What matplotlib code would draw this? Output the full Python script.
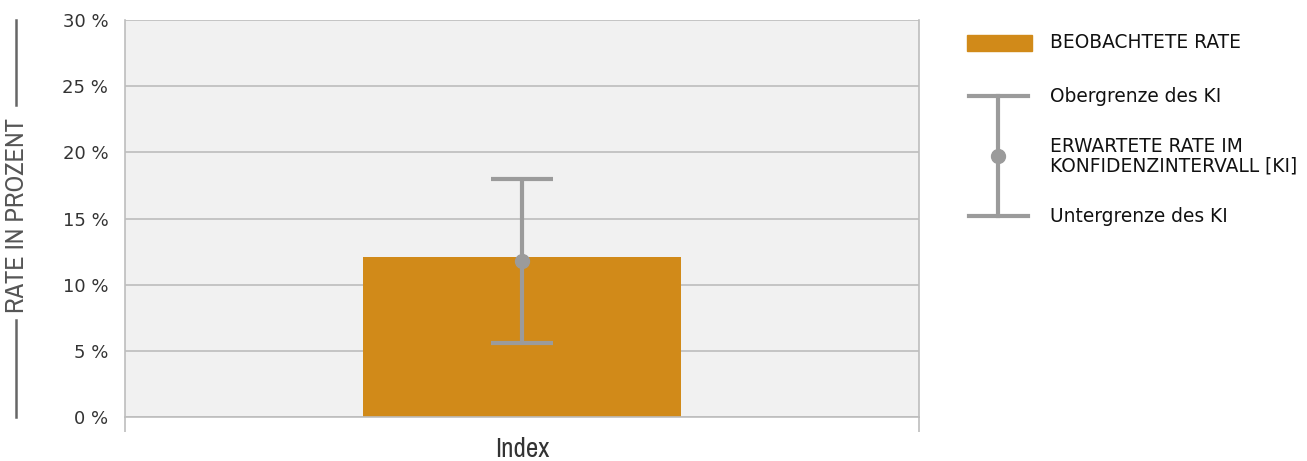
import matplotlib
matplotlib.use("Agg")
import matplotlib.pyplot as plt
from matplotlib import font_manager
from matplotlib.lines import Line2D
from matplotlib.patches import Rectangle

# Data
categories = ["Index"]
observed_rate = [12.1]
expected_rate = [11.8]
ci_upper = [18.0]
ci_lower = [5.6]
y_ticks = [0, 5, 10, 15, 20, 25, 30]
y_tick_labels = ["0 %", "5 %", "10 %", "15 %", "20 %", "25 %", "30 %"]
y_label = "RATE IN PROZENT"
legend_labels = ["BEOBACHTETE RATE", "Obergrenze des KI",
                 "ERWARTETE RATE IM\nKONFIDENZINTERVALL [KI]", "Untergrenze des KI"]

BAR = "#D18A19"
ERR = "#9B9B9B"
BG = "#F1F1F1"
GRID = "#BDBDBD"
TXT = "#333333"

plt.rcParams["font.family"] = ["DejaVu Sans"]

# find a condensed / narrow font if one is installed
narrow = None
narrow_stretch = "normal"
for f in font_manager.fontManager.ttflist:
    if "Liberation Sans Narrow" in f.name:
        narrow = f.name
        break
if narrow is None:
    for f in font_manager.fontManager.ttflist:
        if ("Condensed" in f.name or "Narrow" in f.name) and "Bold" not in f.name:
            narrow = f.name
            break
if narrow is None:
    for f in font_manager.fontManager.ttflist:
        if f.name == "DejaVu Sans" and f.stretch == "condensed" and f.weight in (400, "normal") and f.style == "normal":
            narrow = "DejaVu Sans"
            narrow_stretch = "condensed"
            break
if narrow is None:
    narrow = "DejaVu Sans"

W, H = 1307, 461
fig = plt.figure(figsize=(W / 100, H / 100), dpi=100)

def fx(px):
    return px / W

def fy(py):
    return 1 - py / H

ax = fig.add_axes([fx(125), fy(417), fx(919) - fx(125), fy(20) - fy(417)])
ax.set_facecolor(BG)

x = list(range(len(categories)))
ax.bar(x, observed_rate, width=0.4, color=BAR, zorder=2)
err_low = [e - l for e, l in zip(expected_rate, ci_lower)]
err_up = [u - e for u, e in zip(ci_upper, expected_rate)]
ax.errorbar(x, expected_rate, yerr=[err_low, err_up], fmt="o", color=ERR,
            ecolor=ERR, elinewidth=3, capsize=22, capthick=3, markersize=10, zorder=3)

ax.set_xlim(-0.5, 0.5)
ax.set_ylim(0, 30)
ax.set_yticks(y_ticks)
ax.set_yticklabels(y_tick_labels, fontsize=13, color=TXT)
ax.tick_params(axis="y", length=0, pad=12)
ax.yaxis.grid(True, color=GRID, linewidth=1.2, zorder=1)
ax.set_axisbelow(True)

ax.set_xticks([-0.5, 0.5])
ax.set_xticklabels(["", ""])
ax.tick_params(axis="x", length=11, width=1.2, color=GRID, direction="out")

for side in ["left", "right"]:
    ax.spines[side].set_color(GRID)
    ax.spines[side].set_linewidth(1.2)
ax.spines["top"].set_visible(False)
ax.spines["bottom"].set_color(GRID)
ax.spines["bottom"].set_linewidth(1.2)

# x category label
fig.text(fx(522), fy(449), categories[0], ha="center", va="center", fontsize=19.5,
         family=narrow, fontstretch=narrow_stretch, color=TXT)

# Y label with lines
fig.text(fx(17), fy(216), y_label, rotation=90, ha="center", va="center",
         fontsize=19, family=narrow, fontstretch=narrow_stretch, color="#555555")
fig.add_artist(Line2D([fx(16), fx(16)], [fy(20), fy(105)], color="#666666", lw=1.8))
fig.add_artist(Line2D([fx(16), fx(16)], [fy(320), fy(417)], color="#666666", lw=1.8))

# Legend
fig.add_artist(Rectangle((fx(967), fy(51)), fx(1032) - fx(967), fy(35) - fy(51),
                         transform=fig.transFigure, color=BAR))
fig.add_artist(Line2D([fx(998), fx(998)], [fy(96), fy(216)], color=ERR, lw=3))
fig.add_artist(Line2D([fx(969), fx(1028)], [fy(96), fy(96)], color=ERR, lw=3))
fig.add_artist(Line2D([fx(969), fx(1028)], [fy(216), fy(216)], color=ERR, lw=3))
fig.add_artist(Line2D([fx(998)], [fy(156)], color=ERR, marker="o", markersize=10, lw=0))

lx = fx(1050)
for label, yy in zip(legend_labels, [43, 96, 156, 216]):
    fig.text(lx, fy(yy), label, ha="left", va="center", fontsize=13.4, color="#111111",
             linespacing=1.05)

fig.savefig("out.png", dpi=100)
